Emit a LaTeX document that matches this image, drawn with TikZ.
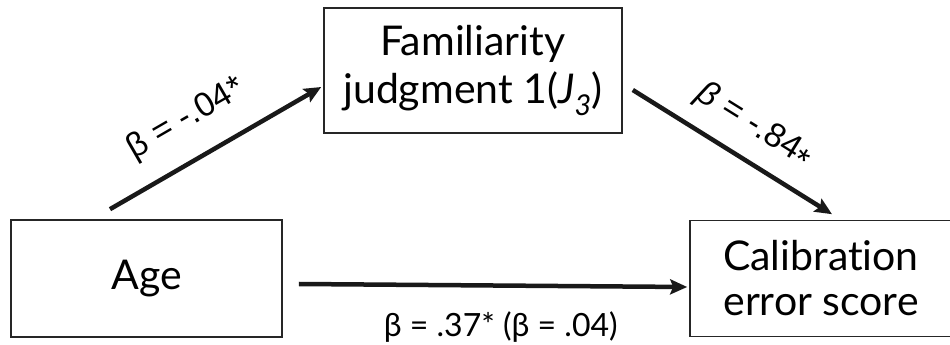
\documentclass[tikz,border=0pt]{standalone}
\usepackage{fontspec}
\newfontfamily\boxfont[Ligatures=NoCommon]{Lato}
\newfontfamily\arialfont{Liberation Sans}
\usetikzlibrary{positioning,arrows.meta}

\begin{document}
\begin{tikzpicture}[x=1pt,y=1pt,
  box/.style={draw=black!85,line width=1.6pt,align=center,inner sep=0pt,font=\boxfont\fontsize{41}{48}\selectfont},
  link/.style={line width=4.5pt,draw=black!90,-{Stealth[length=17pt,width=15pt,inset=3pt]}},
  beta/.style={font=\arialfont\fontsize{34}{34}\selectfont,inner sep=2pt}]
  \useasboundingbox (0,0) rectangle (950,345);
  \node[box,minimum width=298pt,minimum height=125pt] (fam) at (473,274.5) {Familiarity\\judgment 1({\itshape J\textsubscript{3}})};
  \node[box,minimum width=271pt,minimum height=117pt] (age) at (146.5,66.5) {Age};
  \node[box,minimum width=262pt,minimum height=116pt] (cal) at (821,66.5) {Calibration\\[-3pt]error score};
  \draw[link] ([shift={(-36.5,10)}]age.north) -- ([shift={(-2,-16.5)}]fam.west)
    node[beta,pos=0.455,sloped,above=20pt] (bup) {β = -.04*};
  \draw[link] ([shift={(10,-19.5)}]fam.east) -- ([shift={(11,5.5)}]cal.north)
    node[beta,pos=0.52,sloped,above=14pt] (bdown) {{\itshape β} = -.84\raisebox{-0.4ex}{*}};
  \draw[link] ([shift={(16,-5.5)}]age.east) -- ([shift={(-2,-8.5)}]cal.west)
    node[pos=0.52,below=22pt,font=\boxfont\fontsize{32}{32}\selectfont,inner sep=2pt] (bdir) {β = .37* (β = .04)};
\end{tikzpicture}
\end{document}
